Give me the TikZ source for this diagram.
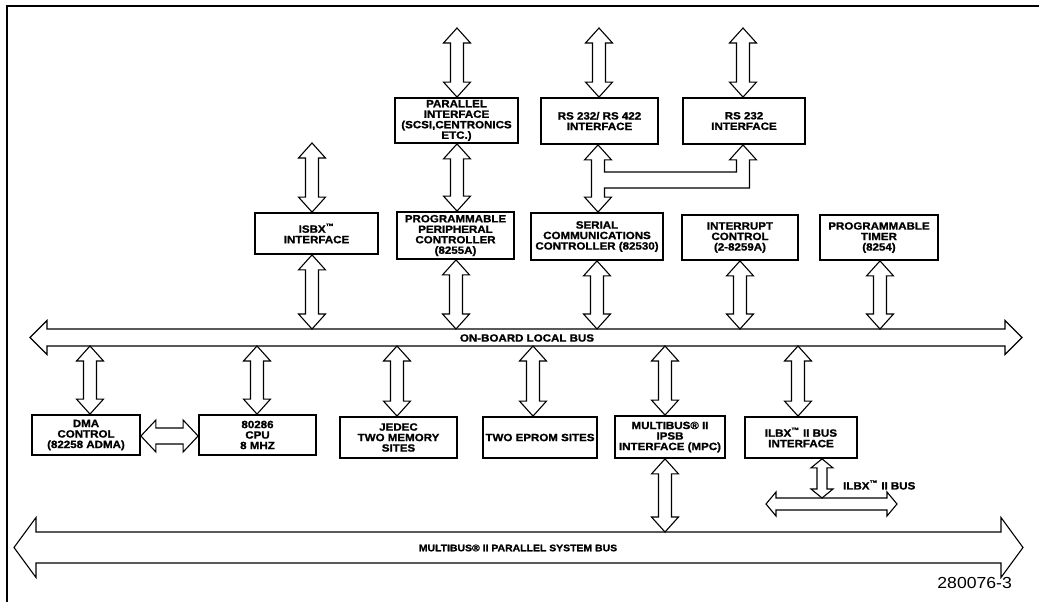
\documentclass[tikz,border=0pt]{standalone}
\usepackage{fontspec}
\setmainfont{Liberation Sans}[FakeStretch=1.1]
\newfontfamily\heavyfont{Liberation Sans}[FakeStretch=1.1, BoldFeatures={FakeBold=1.2}]
\usetikzlibrary{calc}
\tikzset{
  box/.style={draw, line width=1.8pt, align=center, inner sep=0pt,
    font=\heavyfont\bfseries\fontsize{10.5}{10.5}\selectfont},
  arr/.style={draw, line width=1.1pt, fill=white, line join=miter},
  lbl/.style={inner sep=0pt, font=\heavyfont\bfseries\fontsize{10.5}{10.5}\selectfont},
}
% vertical double arrow: x, top coord, bottom coord, shaft half, head half, head length
\newcommand\vda[6]{\path[arr] let \p1=(#2), \p2=(#3) in
 (#1pt,\y1) -- (#1pt+#5pt,\y1-#6pt) -- (#1pt+#4pt,\y1-#6pt) -- (#1pt+#4pt,\y2+#6pt)
 -- (#1pt+#5pt,\y2+#6pt) -- (#1pt,\y2) -- (#1pt-#5pt,\y2+#6pt) -- (#1pt-#4pt,\y2+#6pt)
 -- (#1pt-#4pt,\y1-#6pt) -- (#1pt-#5pt,\y1-#6pt) -- cycle;}
\newcommand\va[3]{\vda{#1}{#2}{#3}{6.5}{13.5}{15}}
% horizontal double arrow: y(px), left coord, right coord, shaft half, head half, head length
\newcommand\hda[6]{\path[arr] let \p1=(#2), \p2=(#3) in
 (\x1,-#1pt) -- (\x1+#6pt,-#1pt+#5pt) -- (\x1+#6pt,-#1pt+#4pt) -- (\x2-#6pt,-#1pt+#4pt)
 -- (\x2-#6pt,-#1pt+#5pt) -- (\x2,-#1pt) -- (\x2-#6pt,-#1pt-#5pt) -- (\x2-#6pt,-#1pt-#4pt)
 -- (\x1+#6pt,-#1pt-#4pt) -- (\x1+#6pt,-#1pt-#5pt) -- cycle;}
\begin{document}
\begin{tikzpicture}[x=1pt,y=-1pt]
\useasboundingbox (0,0) rectangle (1039,602);
% frame
\draw[line width=2pt] (1039,6) -- (7,6) -- (7,602);

% top row
\node[box, minimum width=123pt, minimum height=45pt] (par) at (456.5,120.5)
  {PARALLEL\\INTERFACE\\(SCSI,CENTRONICS\\ETC.)};
\node[box, minimum width=117pt, minimum height=46pt] (rs422) at (599.5,121)
  {RS 232/ RS 422\\INTERFACE};
\node[box, minimum width=122pt, minimum height=46pt] (rs232) at (744,121)
  {RS 232\\INTERFACE};

% middle row
\node[box, minimum width=123pt, minimum height=41pt] (isbx) at (316.5,233.5)
  {ISBX\textsuperscript{™}\\INTERFACE};
\node[box, minimum width=117pt, minimum height=47pt] (ppc) at (455.5,235.5)
  {PROGRAMMABLE\\PERIPHERAL\\CONTROLLER\\(8255A)};
\node[box, minimum width=132pt, minimum height=47pt] (scc) at (597,236.5)
  {SERIAL\\COMMUNICATIONS\\CONTROLLER (82530)};
\node[box, minimum width=116pt, minimum height=45pt] (intr) at (740,237.5)
  {INTERRUPT\\CONTROL\\(2-8259A)};
\node[box, minimum width=118pt, minimum height=45pt] (timer) at (879,237.5)
  {PROGRAMMABLE\\TIMER\\(8254)};

% bottom row
\node[box, minimum width=108pt, minimum height=40pt] (dma) at (86,435)
  {DMA\\CONTROL\\(82258 ADMA)};
\node[box, minimum width=117pt, minimum height=40pt] (cpu) at (257.5,435)
  {80286\\CPU\\8 MHZ};
\node[box, minimum width=117pt, minimum height=41pt] (jedec) at (398.5,437.5)
  {JEDEC\\TWO MEMORY\\SITES};
\node[box, minimum width=114pt, minimum height=41pt] (eprom) at (540,437.5)
  {TWO EPROM SITES};
\node[box, minimum width=110pt, minimum height=42pt] (mpc) at (670,437)
  {MULTIBUS® II\\IPSB\\INTERFACE (MPC)};
\node[box, minimum width=112pt, minimum height=41pt] (ilbx) at (801,437.5)
  {ILBX\textsuperscript{™} II BUS\\INTERFACE};

% bus reference coordinates
\coordinate (lbL) at (30,337.5);  \coordinate (lbR) at (1022,337.5);
\coordinate (lbT) at (0,329);     \coordinate (lbB) at (0,346);
\coordinate (sbL) at (14,547.5);  \coordinate (sbR) at (1023,547.5);
\coordinate (sbT) at (0,532);
\coordinate (ibL) at (766,504);   \coordinate (ibR) at (897,504);
\coordinate (ibT) at (0,498);
\coordinate (t1) at (0,28);
\coordinate (isbxtop) at (0,143);

% buses
\hda{337.5}{lbL}{lbR}{8.5}{17}{17}
\hda{547.5}{sbL}{sbR}{15.5}{30}{22}
\hda{504}{ibL}{ibR}{6}{12}{10}
\node[lbl] (lblocal) at (527,338) {ON-BOARD LOCAL BUS};
\node[lbl, font=\heavyfont\bfseries\fontsize{9.5}{9.5}\selectfont] (lblsys) at (518,548)
  {MULTIBUS® II PARALLEL SYSTEM BUS};
\node[lbl, anchor=west] (lblilbx) at (843,485) {ILBX\textsuperscript{™} II BUS};

% top free arrows
\va{457}{t1}{par.north}
\va{599}{t1}{rs422.north}
\va{743}{t1}{rs232.north}
% parallel to PPC, isbx top
\va{457}{par.south}{ppc.north}
\va{312}{isbxtop}{isbx.north}
% RS232 branch connector
\path[arr] let \p1=(rs422.south), \p2=(scc.north), \p3=(rs232.south) in
 (598pt,\y1) -- (611.5pt,\y1-15pt) -- (604.5pt,\y1-15pt) -- (604.5pt,-172pt)
 -- (736.5pt,-172pt) -- (736.5pt,\y3-15pt) -- (729.5pt,\y3-15pt) -- (743pt,\y3)
 -- (756.5pt,\y3-15pt) -- (749.5pt,\y3-15pt) -- (749.5pt,-188pt) -- (604.5pt,-188pt)
 -- (604.5pt,\y2+15pt) -- (611.5pt,\y2+15pt) -- (598pt,\y2) -- (584.5pt,\y2+15pt)
 -- (591.5pt,\y2+15pt) -- (591.5pt,\y1-15pt) -- (584.5pt,\y1-15pt) -- cycle;

% middle row to local bus
\va{312}{isbx.south}{lbT}
\va{456}{ppc.south}{lbT}
\va{597}{scc.south}{lbT}
\va{740}{intr.south}{lbT}
\va{880}{timer.south}{lbT}
% local bus to bottom row
\va{90}{lbB}{dma.north}
\va{257}{lbB}{cpu.north}
\va{397}{lbB}{jedec.north}
\va{533}{lbB}{eprom.north}
\va{665}{lbB}{mpc.north}
\va{798}{lbB}{ilbx.north}
% DMA <-> CPU
\hda{436}{dma.east}{cpu.west}{8}{16}{15}
% MPC to system bus
\va{665}{mpc.south}{sbT}
% iLBX to small bus
\vda{822}{ilbx.south}{ibT}{5}{11}{9}

\node[inner sep=0pt, anchor=east, font=\fontsize{16}{16}\selectfont] (fig) at (1012,583) {280076-3};
\end{tikzpicture}
\end{document}
